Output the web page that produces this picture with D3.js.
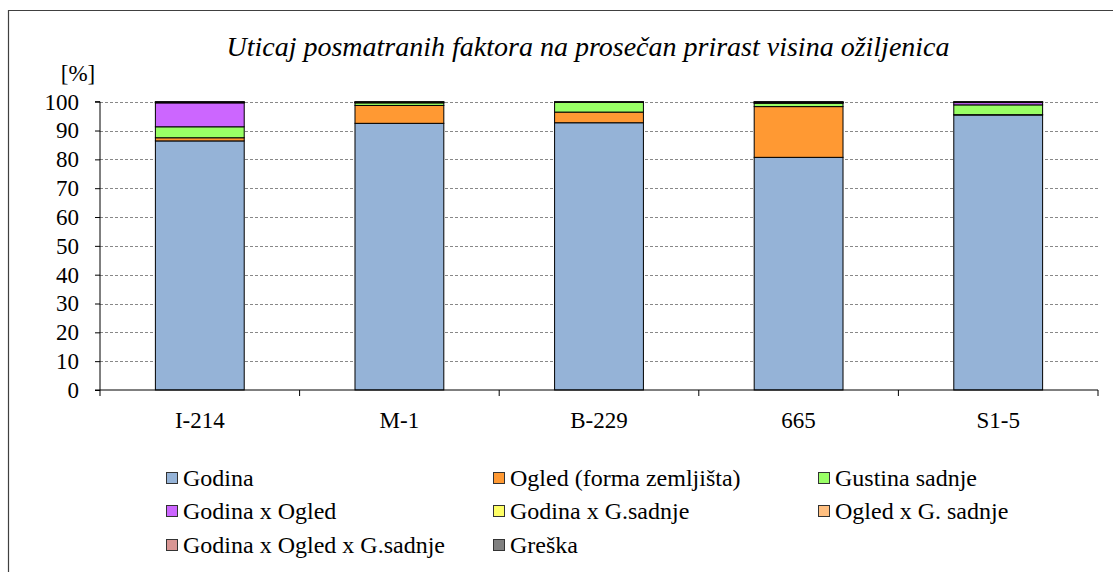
<!DOCTYPE html>
<html>
<head>
<meta charset="utf-8">
<script src="https://cdn.jsdelivr.net/npm/d3@7/dist/d3.min.js"></script>
<style>
  body { margin: 0; background: #fff; }
  text { font-family: "Liberation Serif", "Times New Roman", serif; fill: #000; }
</style>
</head>
<body>
<svg id="chart"></svg>
<script>
const categories = ["I-214", "M-1", "B-229", "665", "S1-5"];
const seriesNames = ["Godina", "Ogled (forma zemljišta)", "Gustina sadnje", "Godina x Ogled",
  "Godina x G.sadnje", "Ogled x G. sadnje", "Godina x Ogled x G.sadnje", "Greška"];
const colors = ["#95b3d7", "#ff9933", "#99ff66", "#cc66ff", "#ffff66", "#ffbf80", "#d99694", "#808080"];

const godina      = [86.4, 92.5, 92.7, 80.7, 95.4];
const ogled       = [1.1, 6.2, 3.7, 17.6, 0.1];
const gustina     = [3.8, 0.9, 3.4, 1.2, 3.4];
const godOgled    = [8.3, 0.1, 0.0, 0.1, 0.8];
const godGs       = [0.1, 0.1, 0.0, 0.1, 0.1];
const ogledGs     = [0.1, 0.1, 0.1, 0.1, 0.1];
const godOgledGs  = [0.1, 0.0, 0.0, 0.1, 0.0];
const greska      = [0.1, 0.1, 0.1, 0.1, 0.1];
const yTicks = [0, 10, 20, 30, 40, 50, 60, 70, 80, 90, 100];

const seriesValues = [godina, ogled, gustina, godOgled, godGs, ogledGs, godOgledGs, greska];

const width = 1113, height = 572;
const svg = d3.select("#chart")
  .attr("width", width)
  .attr("height", height);

// outer frame (right and bottom run off the picture)
svg.append("path")
  .attr("d", `M8.5,${height} V10.5 H${width}`)
  .attr("fill", "none")
  .attr("stroke", "#404040")
  .attr("stroke-width", 1.2);

const left = 100, right = 1098;
const x = d3.scaleBand()
  .domain(categories)
  .range([left, right])
  .paddingInner(0.555)
  .paddingOuter(0.2775);
const y = d3.scaleLinear()
  .domain([0, 100])
  .range([390, 101.7]);

// gridlines
svg.append("g")
  .selectAll("line")
  .data(yTicks.filter(d => d > 0))
  .enter()
  .append("line")
  .attr("x1", left)
  .attr("x2", right)
  .attr("y1", d => Math.round(y(d)) + 0.5)
  .attr("y2", d => Math.round(y(d)) + 0.5)
  .attr("stroke", "#888")
  .attr("stroke-dasharray", "3,2")
  .attr("stroke-width", 1);

// stacked data
const table = categories.map((c, i) => {
  const row = { cat: c };
  seriesNames.forEach((s, j) => row[s] = seriesValues[j][i]);
  return row;
});
const stacked = d3.stack().keys(seriesNames)(table);

svg.append("g")
  .selectAll("g")
  .data(stacked)
  .enter()
  .append("g")
  .attr("fill", (d, i) => colors[i])
  .selectAll("rect")
  .data(d => d)
  .enter()
  .append("rect")
  .attr("x", d => x(d.data.cat))
  .attr("width", x.bandwidth())
  .attr("y", d => y(d[1]))
  .attr("height", d => y(d[0]) - y(d[1]))
  .attr("stroke", "#000")
  .attr("stroke-width", 1);

// y axis
const yAxis = d3.axisLeft(y)
  .tickValues(yTicks)
  .tickSize(5)
  .tickPadding(16);
const gy = svg.append("g")
  .attr("transform", `translate(${left},0)`)
  .call(yAxis);
gy.select(".domain").attr("stroke", "#000").attr("d", `M-5,${y(100)}H0V${y(0)}H-5`);
gy.selectAll(".tick line").attr("stroke", "#000");
gy.selectAll("text")
  .style("font-family", "Liberation Serif")
  .style("font-size", "23px")
  .attr("fill", "#000");

// x axis
const gx = svg.append("g").attr("transform", `translate(0,${y(0)})`);
gx.append("line")
  .attr("x1", left).attr("x2", right)
  .attr("y1", 0).attr("y2", 0)
  .attr("stroke", "#000");
const bounds = categories.map(c => x(c) - x.step() * 0.2775).concat([right]);
gx.selectAll(".sep")
  .data(bounds)
  .enter()
  .append("line")
  .attr("x1", d => d).attr("x2", d => d)
  .attr("y1", 0).attr("y2", 6)
  .attr("stroke", "#000");
gx.selectAll(".lab")
  .data(categories)
  .enter()
  .append("text")
  .attr("x", d => x(d) + x.bandwidth() / 2)
  .attr("y", 38)
  .attr("text-anchor", "middle")
  .style("font-size", "23px")
  .text(d => d);

// title and unit label
svg.append("text")
  .attr("x", 588)
  .attr("y", 56)
  .attr("text-anchor", "middle")
  .style("font-size", "28px")
  .style("font-style", "italic")
  .text("Uticaj posmatranih faktora na prosečan prirast visina ožiljenica");
svg.append("text")
  .attr("x", 78)
  .attr("y", 81)
  .attr("text-anchor", "middle")
  .style("font-size", "23px")
  .text("[%]");

// legend
const legendX = [166, 493, 818];
const legendY = [478, 511, 545];
const legend = svg.append("g")
  .selectAll("g")
  .data(seriesNames)
  .enter()
  .append("g")
  .attr("transform", (d, i) => `translate(${legendX[i % 3]},${legendY[Math.floor(i / 3)]})`);
legend.append("rect")
  .attr("x", 0.5).attr("y", -5.5)
  .attr("width", 11).attr("height", 11)
  .attr("fill", (d, i) => colors[i])
  .attr("stroke", "#333");
legend.append("text")
  .attr("x", 17)
  .attr("y", 8)
  .style("font-size", "24px")
  .text(d => d);
</script>
</body>
</html>
